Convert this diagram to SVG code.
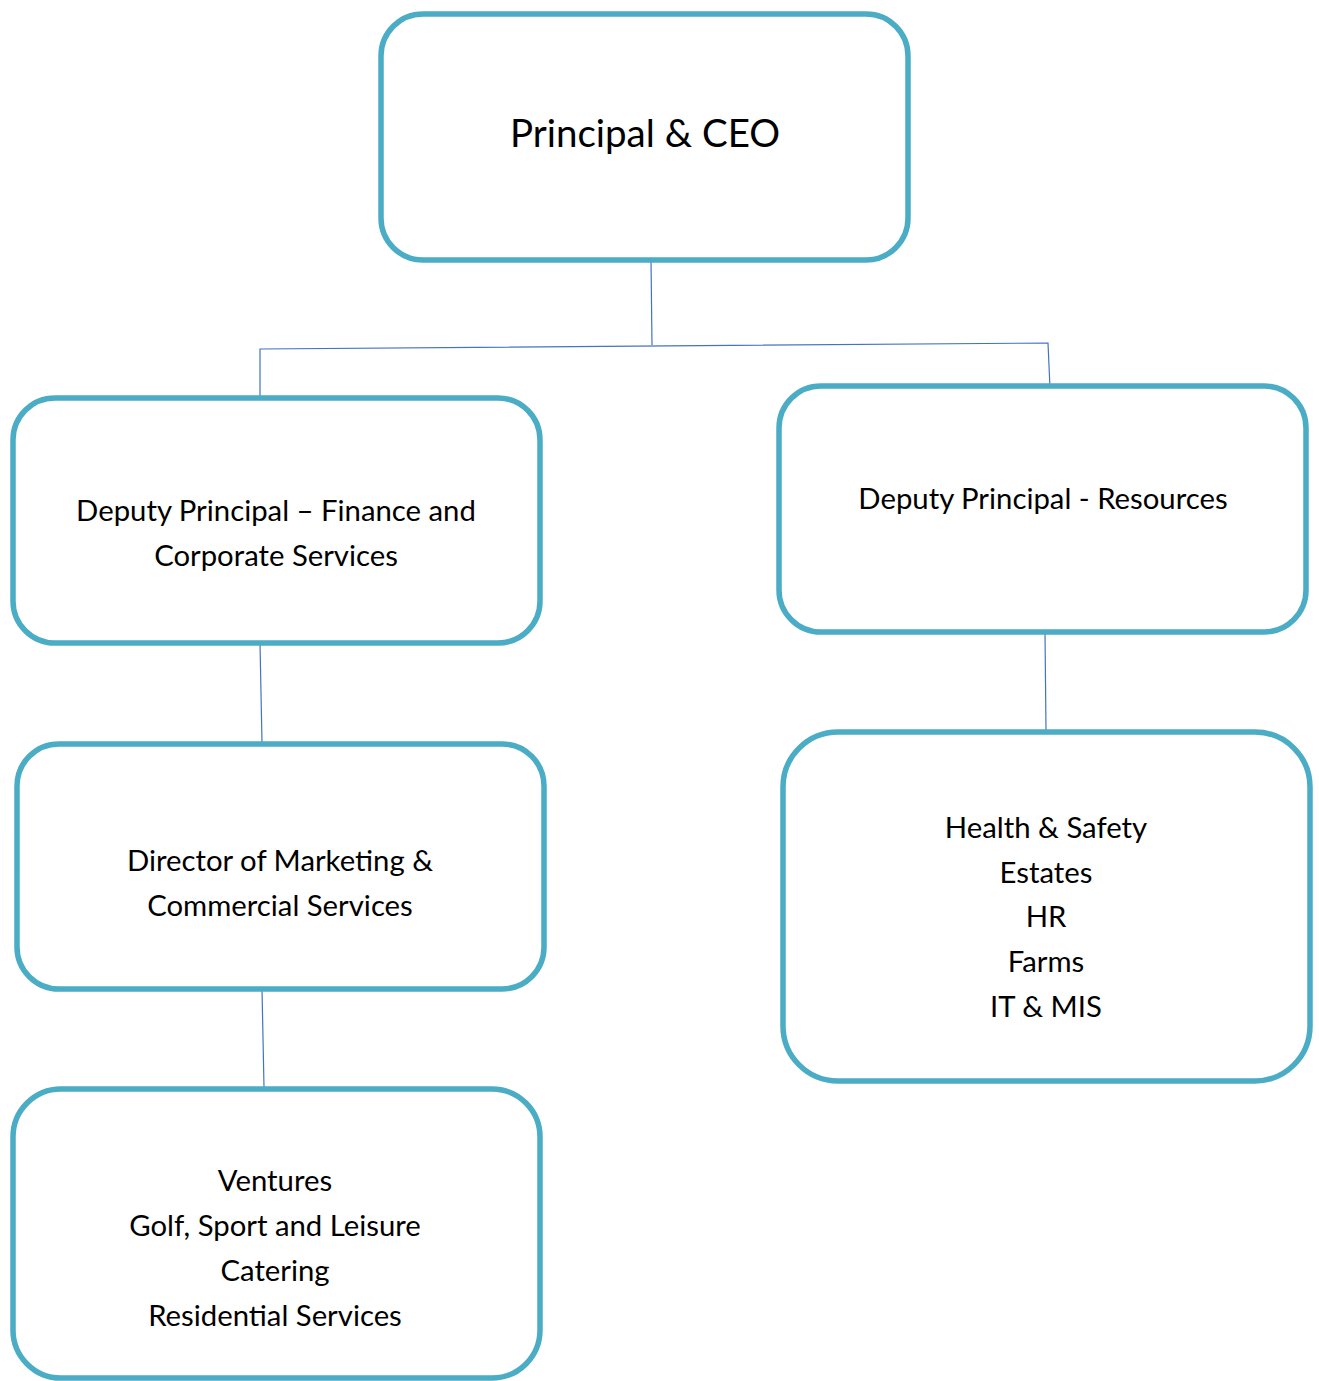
<svg xmlns="http://www.w3.org/2000/svg" width="1319" height="1381" viewBox="0 0 1319 1381">
<style>
.box{fill:#fff;stroke:#4BACC6;stroke-width:5.5}
.t{font-family:Lato,"Open Sans","Liberation Sans",sans-serif;font-size:29.3px;fill:#000;text-anchor:middle}
.big{font-size:38.5px}
.c{fill:none;stroke:#4472C4;stroke-width:1.2}
</style>
<rect width="1319" height="1381" fill="#fff"/>
<g id="connectors">
<polyline class="c" points="651,260 652,345"/>
<polyline class="c" points="260,401 260,349 1048,343 1050,388"/>
<polyline class="c" points="260,643 262,743"/>
<polyline class="c" points="262,989 264,1087"/>
<polyline class="c" points="1045,632 1046,731"/>
</g>
<g id="principal">
<rect class="box" x="381" y="14" width="527" height="246" rx="42"/>
<text class="t big" x="645" y="147">Principal &amp; CEO</text>
</g>
<g id="dp-finance">
<rect class="box" x="13" y="398" width="527" height="245" rx="42"/>
<text class="t" x="276" y="521">Deputy Principal – Finance and</text>
<text class="t" x="276" y="566">Corporate Services</text>
</g>
<g id="dp-resources">
<rect class="box" x="779" y="386" width="527" height="246" rx="42"/>
<text class="t" x="1043" y="509">Deputy Principal - Resources</text>
</g>
<g id="director">
<rect class="box" x="17" y="744" width="527" height="245" rx="42"/>
<text class="t" x="280" y="871">Director of Marketing &amp;</text>
<text class="t" x="280" y="916">Commercial Services</text>
</g>
<g id="resources-units">
<rect class="box" x="783" y="732" width="527" height="349" rx="55"/>
<text class="t" x="1046" y="838">Health &amp; Safety</text>
<text class="t" x="1046" y="883">Estates</text>
<text class="t" x="1046" y="927">HR</text>
<text class="t" x="1046" y="972">Farms</text>
<text class="t" x="1046" y="1017">IT &amp; MIS</text>
</g>
<g id="ventures">
<rect class="box" x="13" y="1089" width="527" height="289" rx="48"/>
<text class="t" x="275" y="1191">Ventures</text>
<text class="t" x="275" y="1236">Golf, Sport and Leisure</text>
<text class="t" x="275" y="1281">Catering</text>
<text class="t" x="275" y="1326">Residential Services</text>
</g>
</svg>
